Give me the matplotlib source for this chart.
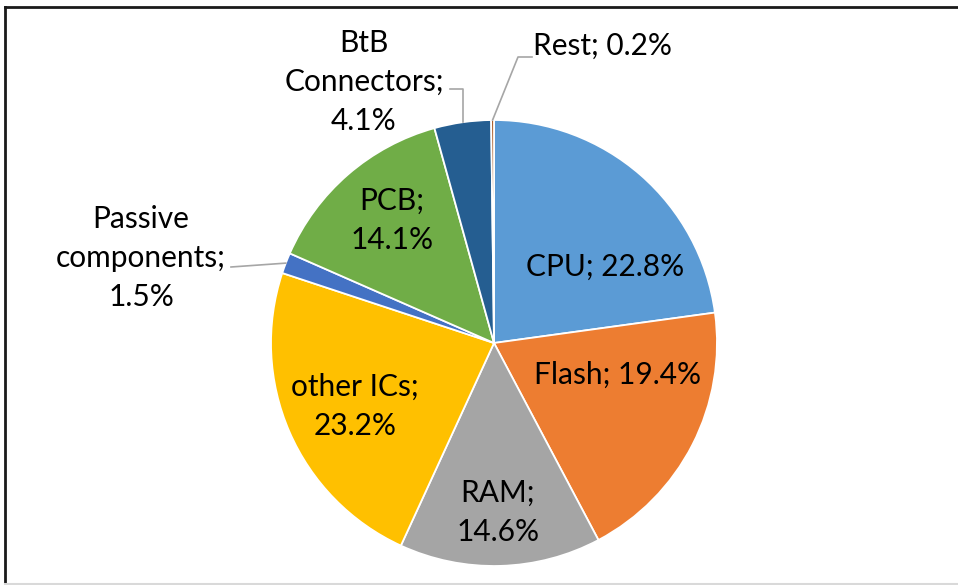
import numpy as np
import matplotlib
matplotlib.use("Agg")
import matplotlib.pyplot as plt
from matplotlib.lines import Line2D

categories = ["CPU", "Flash", "RAM", "other ICs", "Passive components", "PCB", "BtB Connectors", "Rest"]
label_text = ["CPU; 22.8%", "Flash; 19.4%", "RAM;\n14.6%", "other ICs;\n23.2%",
              "Passive\ncomponents;\n1.5%", "PCB;\n14.1%", "BtB\nConnectors;\n4.1%", "Rest; 0.2%"]
values = [22.8, 19.4, 14.6, 23.2, 1.5, 14.1, 4.1, 0.2]
colors = ["#5B9BD5", "#ED7D31", "#A5A5A5", "#FFC000", "#4472C4", "#70AD47", "#255E91", "#9E480E"]

plt.rcParams['font.family'] = ['Lato', 'DejaVu Sans']

W, H = 958, 585
fig = plt.figure(figsize=(W / 100, H / 100), dpi=100)
ax = fig.add_axes([0, 0, 1, 1])

cx, cy, R = 494, H - 343, 223
wedges, _ = ax.pie(values, colors=colors, startangle=90, counterclock=False,
                   center=(cx, cy), radius=R, frame=True,
                   wedgeprops=dict(edgecolor='white', linewidth=1.3))
ax.set_xlim(0, W)
ax.set_ylim(0, H)
ax.set_aspect('equal')
ax.axis('off')

fs = 21.5
# label positions (pixel coordinates from top-left)
pos = {
    "CPU": (605, 267),
    "Flash": (618, 375),
    "RAM": (498, 512),
    "other ICs": (355, 406),
    "Passive components": (141, 258),
    "PCB": (392, 220),
    "BtB Connectors": (364, 82),
    "Rest": (603, 46),
}
for name, txt in zip(categories, label_text):
    x, y = pos[name]
    ax.text(x, H - y, txt, ha='center', va='center', fontsize=fs,
            color='black', linespacing=1.48)

# leader lines from wedge midpoints
total = sum(values)
cum = np.cumsum([0] + values)
def edge_point(i):
    mid = (cum[i] + values[i] / 2) / total * 360.0
    a = np.deg2rad(90 - mid)
    return cx + R * np.cos(a), cy + R * np.sin(a)

gray = '#A6A6A6'
i_rest = categories.index("Rest")
x0, y0 = edge_point(i_rest)
ax.add_line(Line2D([x0, 518, 532], [y0, H - 57, H - 57], color=gray, lw=1.2))
i_btb = categories.index("BtB Connectors")
x0, y0 = edge_point(i_btb)
ax.add_line(Line2D([x0, x0, 450], [y0, H - 89, H - 89], color=gray, lw=1.2))
i_pas = categories.index("Passive components")
x0, y0 = edge_point(i_pas)
ax.add_line(Line2D([x0, 231], [y0, H - 267], color=gray, lw=1.2))

# chart border (top/left dark, bottom light)
fig.add_artist(Line2D([5 / W, 1], [1 - 6.5 / H, 1 - 6.5 / H], transform=fig.transFigure, color='#1a1a1a', lw=2))
fig.add_artist(Line2D([5 / W, 5 / W], [0, 1 - 6.5 / H], transform=fig.transFigure, color='#1a1a1a', lw=2))
fig.add_artist(Line2D([5 / W, 1], [1.2 / H, 1.2 / H], transform=fig.transFigure, color='#D9D9D9', lw=1.5))

fig.savefig("out.png", dpi=100)
